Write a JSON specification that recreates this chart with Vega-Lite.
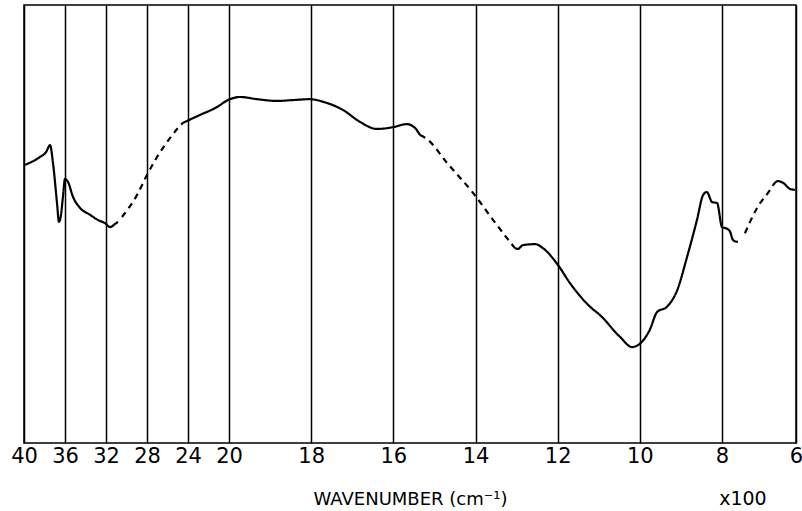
{
  "$schema": "https://vega.github.io/schema/vega-lite/v6.json",
  "width": 772,
  "height": 438,
  "autosize": {"type": "none"},
  "padding": {"left": 24, "top": 5, "right": 6, "bottom": 68},
  "background": "white",
  "config": {"view": {"stroke": "black", "strokeWidth": 1.5}, "font": "DejaVu Sans"},
  "title": {"text": "x100", "orient": "bottom", "anchor": "end", "fontSize": 19, "fontWeight": "normal", "color": "black", "offset": -18, "dx": -36},
  "data": {"values": [
    {"seg": 1, "style": "solid", "wn": 39.9, "t": 63.5},
    {"seg": 1, "style": "solid", "wn": 38.44, "t": 65.3},
    {"seg": 1, "style": "solid", "wn": 37.85, "t": 66.4},
    {"seg": 1, "style": "solid", "wn": 37.46, "t": 68.0},
    {"seg": 1, "style": "solid", "wn": 37.17, "t": 63.9},
    {"seg": 1, "style": "solid", "wn": 36.78, "t": 54.8},
    {"seg": 1, "style": "solid", "wn": 36.59, "t": 50.5},
    {"seg": 1, "style": "solid", "wn": 36.39, "t": 52.1},
    {"seg": 1, "style": "solid", "wn": 36.2, "t": 56.2},
    {"seg": 1, "style": "solid", "wn": 36.0, "t": 60.3},
    {"seg": 1, "style": "solid", "wn": 35.71, "t": 59.6},
    {"seg": 1, "style": "solid", "wn": 35.22, "t": 56.2},
    {"seg": 1, "style": "solid", "wn": 34.54, "t": 53.7},
    {"seg": 1, "style": "solid", "wn": 33.56, "t": 52.1},
    {"seg": 1, "style": "solid", "wn": 32.78, "t": 50.9},
    {"seg": 1, "style": "solid", "wn": 32.1, "t": 50.2},
    {"seg": 1, "style": "solid", "wn": 31.61, "t": 49.3},
    {"seg": 1, "style": "solid", "wn": 31.12, "t": 50.0},
    {"seg": 1, "style": "solid", "wn": 30.83, "t": 50.5},
    {"seg": 2, "style": "dashed", "wn": 30.44, "t": 51.6},
    {"seg": 2, "style": "dashed", "wn": 28.98, "t": 56.6},
    {"seg": 2, "style": "dashed", "wn": 28.0, "t": 61.2},
    {"seg": 2, "style": "dashed", "wn": 27.02, "t": 65.3},
    {"seg": 2, "style": "dashed", "wn": 25.76, "t": 69.6},
    {"seg": 2, "style": "dashed", "wn": 24.98, "t": 71.9},
    {"seg": 2, "style": "dashed", "wn": 24.49, "t": 73.1},
    {"seg": 3, "style": "solid", "wn": 24.49, "t": 73.1},
    {"seg": 3, "style": "solid", "wn": 22.83, "t": 74.9},
    {"seg": 3, "style": "solid", "wn": 21.17, "t": 76.7},
    {"seg": 3, "style": "solid", "wn": 20.1, "t": 78.3},
    {"seg": 3, "style": "solid", "wn": 19.73, "t": 79.0},
    {"seg": 3, "style": "solid", "wn": 19.32, "t": 78.5},
    {"seg": 3, "style": "solid", "wn": 18.83, "t": 78.1},
    {"seg": 3, "style": "solid", "wn": 18.44, "t": 78.3},
    {"seg": 3, "style": "solid", "wn": 18.03, "t": 78.5},
    {"seg": 3, "style": "solid", "wn": 17.71, "t": 77.9},
    {"seg": 3, "style": "solid", "wn": 17.22, "t": 76.0},
    {"seg": 3, "style": "solid", "wn": 16.81, "t": 73.3},
    {"seg": 3, "style": "solid", "wn": 16.4, "t": 71.7},
    {"seg": 3, "style": "solid", "wn": 16.01, "t": 72.1},
    {"seg": 3, "style": "solid", "wn": 15.67, "t": 72.8},
    {"seg": 3, "style": "solid", "wn": 15.47, "t": 71.9},
    {"seg": 3, "style": "solid", "wn": 15.35, "t": 70.3},
    {"seg": 4, "style": "dashed", "wn": 15.35, "t": 70.3},
    {"seg": 4, "style": "dashed", "wn": 15.18, "t": 69.4},
    {"seg": 4, "style": "dashed", "wn": 14.69, "t": 63.9},
    {"seg": 4, "style": "dashed", "wn": 14.06, "t": 57.1},
    {"seg": 4, "style": "dashed", "wn": 13.57, "t": 50.9},
    {"seg": 4, "style": "dashed", "wn": 13.16, "t": 45.9},
    {"seg": 4, "style": "dashed", "wn": 13.04, "t": 44.5},
    {"seg": 5, "style": "solid", "wn": 13.04, "t": 44.5},
    {"seg": 5, "style": "solid", "wn": 12.97, "t": 44.3},
    {"seg": 5, "style": "solid", "wn": 12.84, "t": 45.2},
    {"seg": 5, "style": "solid", "wn": 12.55, "t": 45.4},
    {"seg": 5, "style": "solid", "wn": 12.36, "t": 44.5},
    {"seg": 5, "style": "solid", "wn": 11.99, "t": 40.6},
    {"seg": 5, "style": "solid", "wn": 11.7, "t": 36.5},
    {"seg": 5, "style": "solid", "wn": 11.21, "t": 31.1},
    {"seg": 5, "style": "solid", "wn": 10.97, "t": 29.2},
    {"seg": 5, "style": "solid", "wn": 10.48, "t": 24.2},
    {"seg": 5, "style": "solid", "wn": 10.19, "t": 21.9},
    {"seg": 5, "style": "solid", "wn": 9.95, "t": 23.1},
    {"seg": 5, "style": "solid", "wn": 9.76, "t": 25.8},
    {"seg": 5, "style": "solid", "wn": 9.58, "t": 29.9},
    {"seg": 5, "style": "solid", "wn": 9.34, "t": 31.1},
    {"seg": 5, "style": "solid", "wn": 9.09, "t": 34.9},
    {"seg": 5, "style": "solid", "wn": 8.85, "t": 42.5},
    {"seg": 5, "style": "solid", "wn": 8.61, "t": 50.9},
    {"seg": 5, "style": "solid", "wn": 8.46, "t": 56.6},
    {"seg": 5, "style": "solid", "wn": 8.37, "t": 57.3},
    {"seg": 5, "style": "solid", "wn": 8.24, "t": 55.0},
    {"seg": 5, "style": "solid", "wn": 8.12, "t": 54.8},
    {"seg": 5, "style": "solid", "wn": 8.0, "t": 49.3},
    {"seg": 5, "style": "solid", "wn": 7.86, "t": 48.9},
    {"seg": 5, "style": "solid", "wn": 7.78, "t": 48.2},
    {"seg": 5, "style": "solid", "wn": 7.7, "t": 46.3},
    {"seg": 5, "style": "solid", "wn": 7.57, "t": 45.9},
    {"seg": 6, "style": "dashed", "wn": 7.38, "t": 47.9},
    {"seg": 6, "style": "dashed", "wn": 7.05, "t": 53.7},
    {"seg": 6, "style": "dashed", "wn": 6.7, "t": 57.8},
    {"seg": 6, "style": "dashed", "wn": 6.62, "t": 58.9},
    {"seg": 7, "style": "solid", "wn": 6.62, "t": 58.9},
    {"seg": 7, "style": "solid", "wn": 6.49, "t": 59.8},
    {"seg": 7, "style": "solid", "wn": 6.35, "t": 59.4},
    {"seg": 7, "style": "solid", "wn": 6.16, "t": 58.0},
    {"seg": 7, "style": "solid", "wn": 6.03, "t": 57.8}
  ]},
  "mark": {"type": "line", "color": "black", "strokeWidth": 2.2, "interpolate": "monotone"},
  "encoding": {
    "x": {
      "field": "wn", "type": "quantitative",
      "scale": {"domain": [40, 20, 8, 6], "range": [0, 205, 698, 772], "nice": false, "zero": false},
      "axis": {
        "values": [40, 36, 32, 28, 24, 20, 18, 16, 14, 12, 10, 8, 6],
        "grid": true, "gridColor": "black", "gridWidth": 1.5, "gridOpacity": 1,
        "ticks": false, "domain": false,
        "labelFontSize": 21, "labelColor": "black", "labelPadding": 2,
        "labelFlush": false, "labelOverlap": false,
        "title": "WAVENUMBER (cm⁻¹)", "titleFontSize": 18, "titleFontWeight": "normal",
        "titleColor": "black", "titlePadding": 24
      }
    },
    "y": {"field": "t", "type": "quantitative", "scale": {"domain": [0, 100]}, "axis": null},
    "detail": {"field": "seg"},
    "strokeDash": {
      "field": "style", "type": "nominal",
      "scale": {"domain": ["solid", "dashed"], "range": [[1, 0], [6, 5]]},
      "legend": null
    }
  }
}
